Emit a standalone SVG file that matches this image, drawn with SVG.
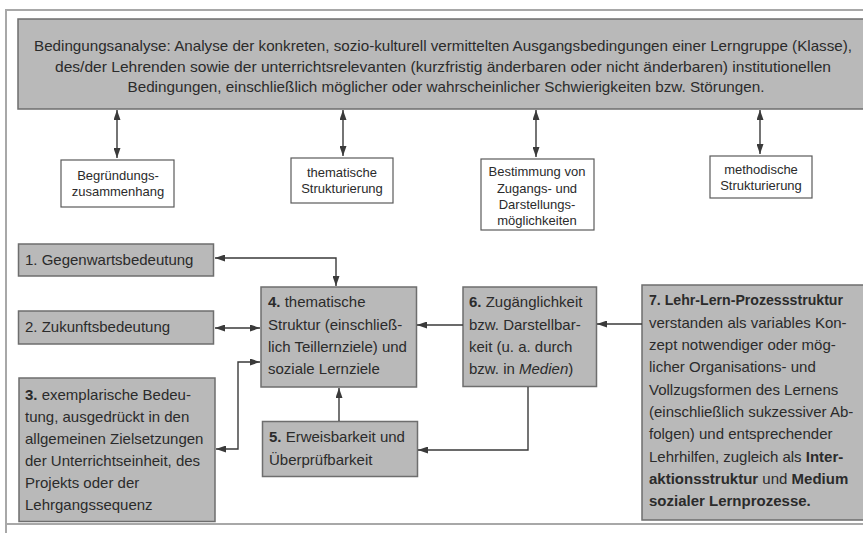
<svg xmlns="http://www.w3.org/2000/svg" width="863" height="533" viewBox="0 0 863 533">
<defs>
<marker id="ah" markerUnits="userSpaceOnUse" markerWidth="10" markerHeight="7" refX="10" refY="3.5" orient="auto-start-reverse">
<path d="M0,0 L10,3.5 L0,7 z" fill="#3a3a3a"/>
</marker>
<style>
.g{fill:#b9b9b9;stroke:#6e6e6e;stroke-width:1.5}
.w{fill:#ffffff;stroke:#5a5a5a;stroke-width:1.2}
text{font-family:"Liberation Sans",Arial,sans-serif;fill:#2b2b2b}
.t{font-size:15px}
.s{font-size:13px;text-anchor:middle}
.b{font-weight:bold}
.c{fill:none;stroke:#3a3a3a;stroke-width:1.4}
.ce{marker-end:url(#ah)}
.cb{marker-start:url(#ah);marker-end:url(#ah)}
.f{fill:none;stroke:#a8a8a8;stroke-width:2}
</style>
</defs>
<rect width="863" height="533" fill="#ffffff"/>
<g id="frame">
<path class="f" d="M6,533 V10 H863 M6,524 H863"/>
</g>
<g id="top">
<rect class="g" x="18" y="19" width="860" height="90"/>
<text class="t" x="443" y="51" text-anchor="middle" textLength="818" lengthAdjust="spacingAndGlyphs">Bedingungsanalyse: Analyse der konkreten, sozio-kulturell vermittelten Ausgangsbedingungen einer Lerngruppe (Klasse),</text>
<text class="t" x="443" y="72" text-anchor="middle" textLength="776" lengthAdjust="spacingAndGlyphs">des/der Lehrenden sowie der unterrichtsrelevanten (kurzfristig änderbaren oder nicht änderbaren) institutionellen</text>
<text class="t" x="446" y="92" text-anchor="middle" textLength="637" lengthAdjust="spacingAndGlyphs">Bedingungen, einschließlich möglicher oder wahrscheinlicher Schwierigkeiten bzw. Störungen.</text>
</g>
<g id="b1">
<rect class="w" x="61" y="160" width="113" height="47"/>
<text class="s" x="118" y="180">Begründungs-</text>
<text class="s" x="118" y="196">zusammenhang</text>
</g>
<g id="b2">
<rect class="w" x="291" y="158" width="102" height="45"/>
<text class="s" x="342" y="177">thematische</text>
<text class="s" x="342" y="193">Strukturierung</text>
</g>
<g id="b3">
<rect class="w" x="481" y="159" width="113" height="71"/>
<text class="s" x="537" y="176">Bestimmung von</text>
<text class="s" x="537" y="192.5">Zugangs- und</text>
<text class="s" x="537" y="209">Darstellungs-</text>
<text class="s" x="537" y="225">möglichkeiten</text>
</g>
<g id="b4">
<rect class="w" x="710" y="156" width="102" height="42"/>
<text class="s" x="761" y="174">methodische</text>
<text class="s" x="761" y="190">Strukturierung</text>
</g>
<g id="n1">
<rect class="g" x="18.5" y="244" width="195" height="32"/>
<text class="t" x="25" y="265">1. Gegenwartsbedeutung</text>
</g>
<g id="n2">
<rect class="g" x="18.5" y="311" width="195" height="33"/>
<text class="t" x="25" y="332">2. Zukunftsbedeutung</text>
</g>
<g id="n3">
<rect class="g" x="19" y="378" width="196" height="143.5"/>
<text class="t" x="25" y="400"><tspan class="b">3.</tspan> exemplarische Bedeu-</text>
<text class="t" x="25" y="422">tung, ausgedrückt in den</text>
<text class="t" x="25" y="444">allgemeinen Zielsetzungen</text>
<text class="t" x="25" y="466">der Unterrichtseinheit, des</text>
<text class="t" x="25" y="488">Projekts oder der</text>
<text class="t" x="25" y="510">Lehrgangssequenz</text>
</g>
<g id="n4">
<rect class="g" x="261" y="287" width="155.5" height="100"/>
<text class="t" x="268" y="307"><tspan class="b">4.</tspan> thematische</text>
<text class="t" x="268" y="330">Struktur (einschließ-</text>
<text class="t" x="268" y="352">lich Teillernziele) und</text>
<text class="t" x="268" y="374">soziale Lernziele</text>
</g>
<g id="n5">
<rect class="g" x="262.5" y="421.5" width="155" height="55"/>
<text class="t" x="269" y="442"><tspan class="b">5.</tspan> Erweisbarkeit und</text>
<text class="t" x="269" y="465">Überprüfbarkeit</text>
</g>
<g id="n6">
<rect class="g" x="463" y="287" width="133.5" height="99.5"/>
<text class="t" x="469" y="307"><tspan class="b">6.</tspan> Zugänglichkeit</text>
<text class="t" x="469" y="330">bzw. Darstellbar-</text>
<text class="t" x="469" y="352">keit (u. a. durch</text>
<text class="t" x="469" y="374">bzw. in <tspan font-style="italic">Medien</tspan>)</text>
</g>
<g id="n7">
<rect class="g" x="642" y="285" width="230" height="235"/>
<text class="t b" x="649" y="305" textLength="194" lengthAdjust="spacingAndGlyphs">7. Lehr-Lern-Prozessstruktur</text>
<text class="t" x="649" y="327.5">verstanden als variables Kon-</text>
<text class="t" x="649" y="350">zept notwendiger oder mög-</text>
<text class="t" x="649" y="372">licher Organisations- und</text>
<text class="t" x="649" y="394.5">Vollzugsformen des Lernens</text>
<text class="t" x="649" y="417">(einschließlich sukzessiver Ab-</text>
<text class="t" x="649" y="439">folgen) und entsprechender</text>
<text class="t" x="649" y="461.5">Lehrhilfen, zugleich als <tspan class="b">Inter-</tspan></text>
<text class="t" x="649" y="484"><tspan class="b">aktionsstruktur</tspan> und <tspan class="b">Medium</tspan></text>
<text class="t b" x="649" y="506">sozialer Lernprozesse.</text>
</g>
<g id="connectors">
<path class="c cb" d="M117,110 V158"/>
<path class="c cb" d="M343,110 V156"/>
<path class="c cb" d="M536,110 V157"/>
<path class="c cb" d="M760,110 V154"/>
<path class="c cb" d="M215,258 H336 V286"/>
<path class="c cb" d="M215,328 H260"/>
<path class="c cb" d="M216,449 H238 V362 H260"/>
<path class="c ce" d="M339,421 V388"/>
<path class="c ce" d="M463,325 H417"/>
<path class="c ce" d="M642,324 H597"/>
<path class="c ce" d="M528,387 V450 H418"/>
</g>
</svg>
